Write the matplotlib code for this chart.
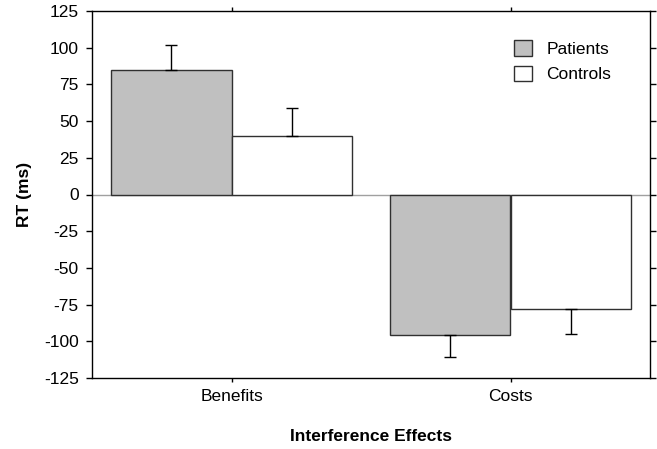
import numpy as np
import matplotlib.pyplot as plt

plt.rcParams['font.family'] = ['Liberation Sans', 'DejaVu Sans']
plt.rcParams['axes.unicode_minus'] = False

categories = ["Benefits", "Costs"]
patients = [85, -96]
controls = [40, -78]
patients_err = [17, 15]
controls_err = [19, 17]

x = np.arange(len(categories))
w = 0.432

fig = plt.figure(figsize=(6.57, 4.49), dpi=100)
ax = fig.add_axes([92/657, 1 - 378/449, 558/657, 367/449])

# error bars only in the direction of the bar
def one_sided(vals, errs):
    lo = [0 if v >= 0 else e for v, e in zip(vals, errs)]
    hi = [e if v >= 0 else 0 for v, e in zip(vals, errs)]
    return [lo, hi]

ax.axhline(0, color="#a0a0a0", lw=1, zorder=1)
ax.bar(x - w/2, patients, w, color="#c0c0c0", edgecolor="#303030", lw=1,
       label="Patients", zorder=2,
       yerr=one_sided(patients, patients_err), capsize=4,
       error_kw=dict(ecolor="black", elinewidth=1, capthick=1))
ax.bar(x + w/2, controls, w, color="white", edgecolor="#303030", lw=1,
       label="Controls", zorder=2,
       yerr=one_sided(controls, controls_err), capsize=4,
       error_kw=dict(ecolor="black", elinewidth=1, capthick=1))

ax.set_xlim(-0.5, 1.5)
ax.set_ylim(-125, 125)
ax.set_yticks(np.arange(-125, 126, 25))
ax.set_xticks(x)
ax.set_xticklabels(categories)
ax.tick_params(axis="both", direction="out", length=4.5, labelsize=12.5, width=1)
ax.tick_params(axis="y", right=True, labelright=False, pad=5)
ax.tick_params(axis="x", top=True, labeltop=False, length=3, pad=5)
for s in ax.spines.values():
    s.set_linewidth(1)

ax.set_ylabel("RT (ms)", fontsize=12.5, fontweight="bold")
ax.yaxis.set_label_coords(-0.107, 0.5)
ax.set_xlabel("Interference Effects", fontsize=12.5, fontweight="bold")
ax.xaxis.set_label_coords(0.5, -0.14)

ax.legend(loc="upper left", bbox_to_anchor=(0.729, 0.963), frameon=False,
          fontsize=12.5, handlelength=1.0, handleheight=1.0, labelspacing=0.5,
          handletextpad=0.85)

fig.savefig("out.png", dpi=100)
